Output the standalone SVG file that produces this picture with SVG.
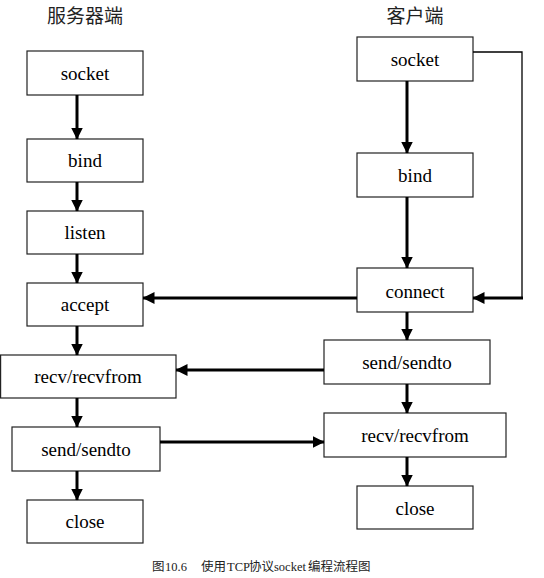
<svg xmlns="http://www.w3.org/2000/svg" width="544" height="578" viewBox="0 0 544 578">
<style>
.box{fill:#fff;stroke:#222;stroke-width:1.2}
.lbl{font-family:"Liberation Serif","Noto Sans CJK SC",serif;font-size:19px;fill:#000;text-anchor:middle}
.ttl{font-family:"Liberation Serif","Noto Sans CJK SC",serif;font-size:19px;fill:#222;text-anchor:middle}
.cap{font-family:"Liberation Serif","Noto Sans CJK SC",serif;font-size:12.5px;fill:#222}
.ar{stroke:#000;stroke-width:3;fill:none;marker-end:url(#ah)}
.thin{stroke:#000;stroke-width:1.3;fill:none}
</style>
<defs>
<marker id="ah" markerUnits="userSpaceOnUse" markerWidth="12" markerHeight="12" refX="11.5" refY="6" orient="auto">
<path d="M0,0 L12,6 L0,12 z" fill="#000"/>
</marker>
</defs>
<text class="ttl" x="85" y="23">服务器端</text>
<text class="ttl" x="415" y="23">客户端</text>
<g id="s-socket"><rect class="box" x="27" y="51" width="116" height="44"/><text class="lbl" x="85" y="80">socket</text></g>
<g id="s-bind"><rect class="box" x="27" y="139" width="116" height="43"/><text class="lbl" x="85" y="167">bind</text></g>
<g id="s-listen"><rect class="box" x="27" y="211" width="116" height="43"/><text class="lbl" x="85" y="239">listen</text></g>
<g id="s-accept"><rect class="box" x="27" y="283" width="116" height="43"/><text class="lbl" x="85" y="311">accept</text></g>
<g id="s-recv"><rect class="box" x="0.6" y="355" width="175.4" height="43"/><text class="lbl" x="88" y="383">recv/recvfrom</text></g>
<g id="s-send"><rect class="box" x="12" y="427" width="148" height="44"/><text class="lbl" x="86" y="456">send/sendto</text></g>
<g id="s-close"><rect class="box" x="27" y="500" width="116" height="43"/><text class="lbl" x="85" y="528">close</text></g>
<g id="c-socket"><rect class="box" x="357" y="37" width="116" height="44"/><text class="lbl" x="415" y="66">socket</text></g>
<g id="c-bind"><rect class="box" x="357" y="153" width="116" height="44"/><text class="lbl" x="415" y="182">bind</text></g>
<g id="c-connect"><rect class="box" x="357" y="268" width="116" height="44"/><text class="lbl" x="415" y="298">connect</text></g>
<g id="c-send"><rect class="box" x="324" y="340" width="166" height="44"/><text class="lbl" x="407" y="369">send/sendto</text></g>
<g id="c-recv"><rect class="box" x="324" y="413" width="182" height="44"/><text class="lbl" x="415" y="442">recv/recvfrom</text></g>
<g id="c-close"><rect class="box" x="357" y="486" width="116" height="43"/><text class="lbl" x="415" y="515">close</text></g>
<g id="connectors">
<line class="ar" x1="77" y1="95" x2="77" y2="139"/>
<line class="ar" x1="77" y1="182" x2="77" y2="211"/>
<line class="ar" x1="77" y1="254" x2="77" y2="283"/>
<line class="ar" x1="77" y1="326" x2="77" y2="355"/>
<line class="ar" x1="77" y1="398" x2="77" y2="427"/>
<line class="ar" x1="77" y1="471" x2="77" y2="500"/>
<line class="ar" x1="407" y1="81" x2="407" y2="153"/>
<line class="ar" x1="407" y1="197" x2="407" y2="268"/>
<line class="ar" x1="407" y1="312" x2="407" y2="340"/>
<line class="ar" x1="407" y1="384" x2="407" y2="413"/>
<line class="ar" x1="407" y1="457" x2="407" y2="486"/>
<polyline class="thin" points="473,52 522,52 522,298"/>
<line class="ar" x1="523" y1="298" x2="473" y2="298"/>
<line class="ar" x1="357" y1="298" x2="143" y2="298"/>
<line class="ar" x1="324" y1="370" x2="176" y2="370"/>
<line class="ar" x1="160" y1="442" x2="324" y2="442"/>
</g>
<text class="cap" y="571"><tspan x="152">图</tspan><tspan x="165">10.6</tspan><tspan x="201">使用</tspan><tspan x="227">TCP</tspan><tspan x="249">协议</tspan><tspan x="274">socket</tspan><tspan x="308">编程流程图</tspan></text>
</svg>
